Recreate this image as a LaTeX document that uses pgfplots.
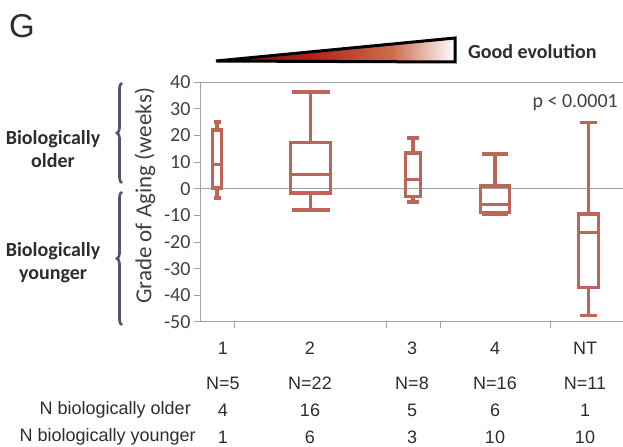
\documentclass[border=0pt]{standalone}
\usepackage{fontspec}
\setmainfont{Carlito}
\newfontfamily\arialf{Liberation Sans}
\usepackage{pgfplots}
\pgfplotsset{compat=1.18}
\usetikzlibrary{decorations.pathreplacing}
\definecolor{boxcol}{RGB}{190,100,88}
\definecolor{axgray}{RGB}{160,160,160}
\definecolor{txtgray}{RGB}{64,64,64}
\definecolor{rowtxt}{RGB}{45,45,45}
\definecolor{bracecol}{RGB}{92,80,112}
\definecolor{wedgeA}{RGB}{110,12,8}
\definecolor{wedgeB}{RGB}{178,35,22}
\definecolor{wedgeC}{RGB}{205,110,80}
\pgfdeclarehorizontalshading{wedge}{100bp}{color(0bp)=(wedgeA); color(25bp)=(wedgeA); color(45bp)=(wedgeB); color(62bp)=(wedgeC); color(75bp)=(white); color(100bp)=(white)}
\pgfplotsset{boxline/.style={draw=boxcol, line width=3.6bp, line join=miter, mark=none}}
\begin{document}
\begin{tikzpicture}
\path[use as bounding box] (0bp,0bp) rectangle (623bp,447bp);
\begin{axis}[
  at={(200bp,125bp)}, anchor=south west,
  scale only axis, width=423bp, height=240bp,
  xmin=200, xmax=623, ymin=-50, ymax=40,
  clip=false,
  axis lines*=left,
  axis line style={draw=axgray, line width=1bp, -},
  xtick={234,386,440,550}, xticklabels={},
  ytick={-50,-40,...,40},
  yticklabels={-50,-40,-30,-20,-10,0,10,20,30,40},
  tick align=outside, major tick length=6bp,
  tick style={draw=axgray, line width=1bp},
  extra y ticks={0,40}, extra y tick labels={},
  extra y tick style={grid=major, major grid style={draw=axgray, line width=1bp}},
  yticklabel style={font=\fontsize{20bp}{24bp}\selectfont, text=txtgray},
  ylabel={Grade of Aging (weeks)},
  ylabel style={font=\fontsize{23bp}{27bp}\selectfont, text=txtgray, at={(axis description cs:-0.130,0.525)}, anchor=center},
  unbounded coords=jump,
]
% group 1
\addplot[boxline] coordinates {(217,0.3) (221.5,0.3) (221.5,22) (212.5,22) (212.5,0.3) (217,0.3) (217,nan)
 (212.5,9) (221.5,9) (217,nan) (217,22) (217,25) (217,nan) (213.5,25) (220.5,25) (217,nan)
 (217,0.3) (217,-3.5) (217,nan) (213.5,-3.5) (220.5,-3.5)};
% group 2
\addplot[boxline] coordinates {(310.5,-1.7) (330.5,-1.7) (330.5,17.3) (290.5,17.3) (290.5,-1.7) (310.5,-1.7) (310.5,nan)
 (290.5,5.3) (330.5,5.3) (310.5,nan) (310.5,17.3) (310.5,36.2) (310.5,nan) (291.5,36.2) (329.5,36.2) (310.5,nan)
 (310.5,-1.7) (310.5,-8) (310.5,nan) (291.5,-8) (329.5,-8)};
% group 3
\addplot[boxline] coordinates {(413,-3) (420.5,-3) (420.5,13.3) (405.5,13.3) (405.5,-3) (413,-3) (413,nan)
 (405.5,3.5) (420.5,3.5) (413,nan) (413,13.3) (413,19) (413,nan) (407,19) (419,19) (413,nan)
 (413,-3) (413,-5) (413,nan) (407,-5) (419,-5)};
% group 4
\addplot[boxline] coordinates {(495,-8.9) (509.5,-8.9) (509.5,1) (480.5,1) (480.5,-8.9) (495,-8.9) (495,nan)
 (480.5,-5.9) (509.5,-5.9) (495,nan) (495,1) (495,13) (495,nan) (482,13) (508,13) (495,nan)
 (495,-8.9) (495,-9.7) (495,nan) (482,-9.7) (508,-9.7)};
% group NT
\addplot[boxline] coordinates {(588.5,-37.1) (598.5,-37.1) (598.5,-9.5) (578.5,-9.5) (578.5,-37.1) (588.5,-37.1) (588.5,nan)
 (578.5,-16.4) (598.5,-16.4) (588.5,nan) (588.5,-9.5) (588.5,24.8) (588.5,nan) (580,24.8) (597,24.8) (588.5,nan)
 (588.5,-37.1) (588.5,-47.6) (588.5,nan) (580,-47.6) (597,-47.6)};
\end{axis}
% title letter
\node[anchor=west, font=\arialf\fontsize{33bp}{36bp}\selectfont, text=rowtxt, inner sep=0] at (9bp,421bp) {G};
% wedge
\shadedraw[shading=wedge, draw=black, line width=3bp, line join=miter] (216bp,386bp) -- (455bp,409bp) -- (455bp,385bp) -- cycle;
\node[anchor=west, font=\bfseries\fontsize{20bp}{24bp}\selectfont, text=rowtxt, inner sep=0] at (468bp,395bp) {Good evolution};
% p value
\node[anchor=east, font=\fontsize{20bp}{24bp}\selectfont, text=txtgray, inner sep=0] at (618bp,344bp) {p < 0.0001};
% braces
\draw[bracecol, line width=2.6bp, decorate, decoration={brace, amplitude=5bp}] (122bp,264bp) -- (122bp,364bp);
\draw[bracecol, line width=2.6bp, decorate, decoration={brace, amplitude=5bp}] (122bp,122bp) -- (122bp,255bp);
\node[align=center, font=\bfseries\fontsize{20bp}{23bp}\selectfont, text=rowtxt, inner sep=0] at (53bp,297.5bp) {Biologically\\older};
\node[align=center, font=\bfseries\fontsize{20bp}{23bp}\selectfont, text=rowtxt, inner sep=0] at (53bp,184.5bp) {Biologically\\younger};
% table below
\begin{scope}[every node/.style={font=\arialf\fontsize{18bp}{21bp}\selectfont, text=rowtxt, inner sep=0}]
\foreach \xx/\lab in {223/1,310/2,412/3,495/4,585/NT} {\node at (\xx bp,99bp) {\lab};}
\foreach \xx/\lab in {223/N=5,310/N=22,412/N=8,495/N=16,585/N=11} {\node at (\xx bp,64bp) {\lab};}
\foreach \xx/\lab in {223/4,310/16,412/5,495/6,585/1} {\node at (\xx bp,37bp) {\lab};}
\foreach \xx/\lab in {223/1,310/6,412/3,495/10,585/10} {\node at (\xx bp,10bp) {\lab};}
\node[anchor=east] at (191bp,37bp) {N biologically older};
\node[anchor=east] at (196bp,10bp) {N biologically younger};
\end{scope}
\end{tikzpicture}
\end{document}
